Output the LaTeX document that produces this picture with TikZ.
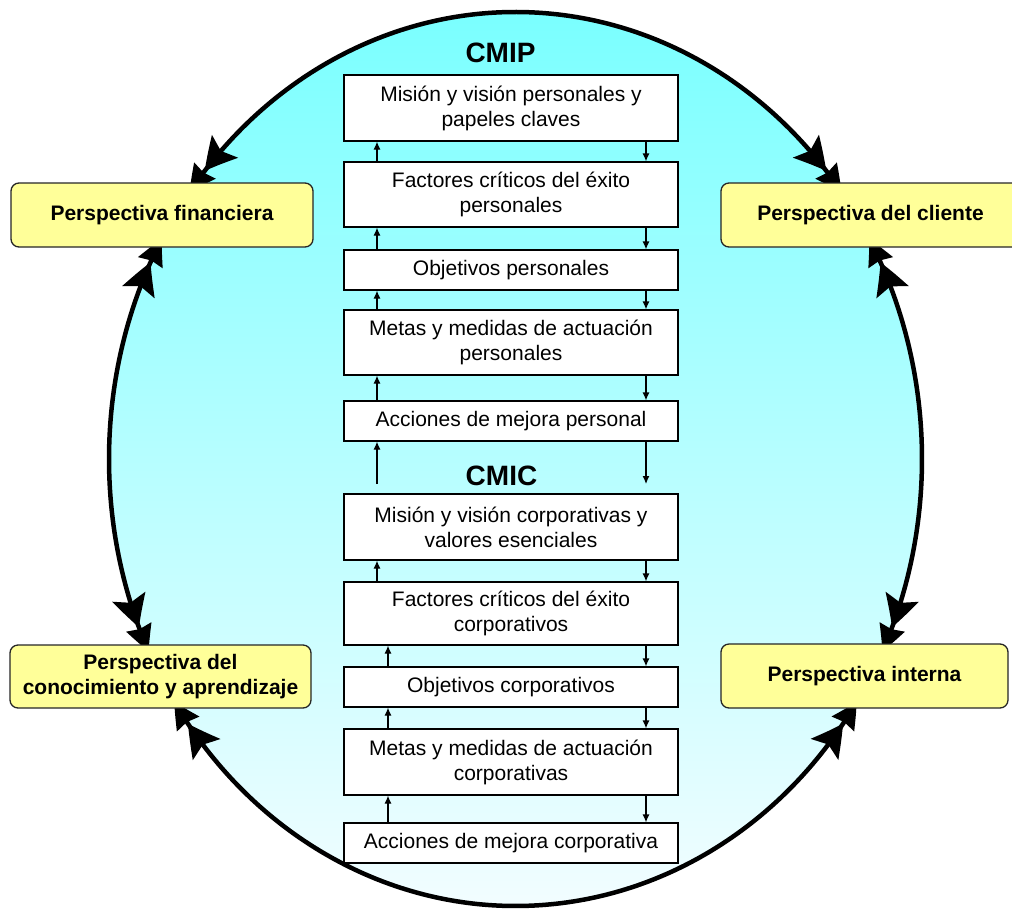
\documentclass[tikz,border=0pt]{standalone}
\usepackage{fontspec}
\setmainfont{Liberation Sans}
\usetikzlibrary{arrows.meta,bending,calc}
\definecolor{cyantop}{RGB}{122,255,255}
\definecolor{cyanbot}{RGB}{242,253,255}
\definecolor{perspfill}{RGB}{255,255,153}
\tikzset{
  stagebox/.style={draw=black, line width=1.2pt, fill=white, minimum width=334pt,
    inner sep=2pt, align=center, font=\fontsize{21}{25}\selectfont},
  persp/.style={draw=black!85, line width=1.3pt, fill=perspfill, rounded corners=8pt,
    inner sep=2pt, align=center, font=\fontsize{21}{25}\selectfont\bfseries},
  heading/.style={font=\fontsize{28}{30}\selectfont\bfseries},
  flow/.style={line width=1.2pt, -{Latex[length=8pt,width=7pt]}},
  cycle/.style={line width=4.5pt,
    {Stealth[length=26pt,width=26pt,inset=2pt,bend,sep=-10pt] Stealth[length=32pt,width=34pt,inset=6pt,bend]}-{Stealth[length=32pt,width=34pt,inset=6pt,bend] Stealth[length=26pt,width=26pt,inset=2pt,bend,sep=-10pt]}},
}
\begin{document}
\begin{tikzpicture}[x=1pt,y=-1pt]
\useasboundingbox (0,0) rectangle (1012,911);

% shaded ellipse behind everything
\coordinate (E) at (515.5,459);
\fill[top color=cyantop, bottom color=cyanbot] (E) ellipse [x radius=406.5pt, y radius=447pt];

% four arcs of the ellipse, each with heads at both ends
\draw[cycle] ($(E)+(142:406.5pt and 447pt)$) arc[start angle=142, end angle=38, x radius=406.5pt, y radius=447pt];
\draw[cycle] ($(E)+(151.8:406.5pt and 447pt)$) arc[start angle=151.8, end angle=204.2, x radius=406.5pt, y radius=447pt];
\draw[cycle] ($(E)+(214.2:406.5pt and 447pt)$) arc[start angle=214.2, end angle=325.8, x radius=406.5pt, y radius=447pt];
\draw[cycle] ($(E)+(335.8:406.5pt and 447pt)$) arc[start angle=335.8, end angle=388.2, x radius=406.5pt, y radius=447pt];

% the four perspectives
\node[persp, minimum width=302pt, minimum height=64pt] (fin) at (162,215) {Perspectiva financiera};
\node[persp, minimum width=299pt, minimum height=64pt] (cli) at (870.5,215) {Perspectiva del cliente};
\node[persp, minimum width=301pt, minimum height=63pt] (con) at (160.5,676.5) {Perspectiva del\\conocimiento y aprendizaje};
\node[persp, minimum width=287pt, minimum height=64pt] (int) at (864.5,676) {Perspectiva interna};

% headings
\node[heading] (cmip) at (500.5,53) {CMIP};
\node[heading] (cmic) at (501.5,476) {CMIC};

% personal scorecard
\node[stagebox, minimum height=66pt] (b1) at (511,108) {Misión y visión personales y\\papeles claves};
\node[stagebox, minimum height=65pt] (b2) at (511,194.5) {Factores críticos del éxito\\personales};
\node[stagebox, minimum height=40pt] (b3) at (511,270) {Objetivos personales};
\node[stagebox, minimum height=65pt] (b4) at (511,342.5) {Metas y medidas de actuación\\personales};
\node[stagebox, minimum height=40pt] (b5) at (511,421) {Acciones de mejora personal};

% corporate scorecard
\node[stagebox, minimum height=66pt] (b6) at (511,527) {Misión y visión corporativas y\\valores esenciales};
\node[stagebox, minimum height=63pt] (b7) at (511,613.5) {Factores críticos del éxito\\corporativos};
\node[stagebox, minimum height=40pt] (b8) at (511,687) {Objetivos corporativos};
\node[stagebox, minimum height=66pt] (b9) at (511,762) {Metas y medidas de actuación\\corporativas};
\node[stagebox, minimum height=40pt] (b10) at (511,843) {Acciones de mejora corporativa};

% x positions of the up and down links
\coordinate (L) at (377,0);
\coordinate (LL) at (388,0);
\coordinate (R) at (646,0);
\coordinate (midL) at (377,484);
\coordinate (midR) at (646,484);

% upward links
\draw[flow] (b2.north -| L) -- (b1.south -| L);
\draw[flow] (b3.north -| L) -- (b2.south -| L);
\draw[flow] (b4.north -| L) -- (b3.south -| L);
\draw[flow] (b5.north -| L) -- (b4.south -| L);
\draw[flow] (midL) -- (b5.south -| L);
\draw[flow] (b7.north -| L) -- (b6.south -| L);
\draw[flow] (b8.north -| LL) -- (b7.south -| LL);
\draw[flow] (b9.north -| LL) -- (b8.south -| LL);
\draw[flow] (b10.north -| LL) -- (b9.south -| LL);

% downward links
\draw[flow] (b1.south -| R) -- (b2.north -| R);
\draw[flow] (b2.south -| R) -- (b3.north -| R);
\draw[flow] (b3.south -| R) -- (b4.north -| R);
\draw[flow] (b4.south -| R) -- (b5.north -| R);
\draw[flow] (b5.south -| R) -- (midR);
\draw[flow] (b6.south -| R) -- (b7.north -| R);
\draw[flow] (b7.south -| R) -- (b8.north -| R);
\draw[flow] (b8.south -| R) -- (b9.north -| R);
\draw[flow] (b9.south -| R) -- (b10.north -| R);
\end{tikzpicture}
\end{document}
